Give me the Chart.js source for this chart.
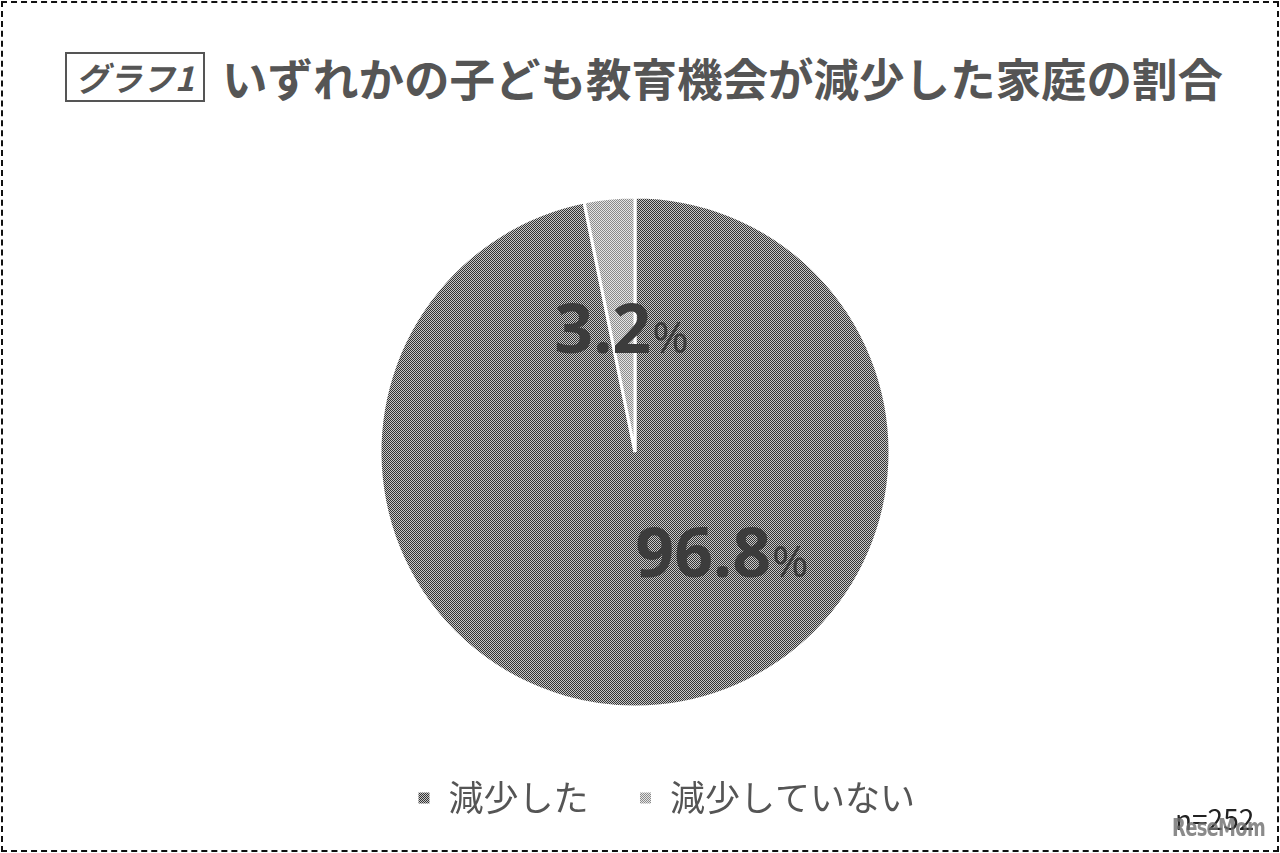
<!DOCTYPE html>
<html lang="ja">
<head>
<meta charset="utf-8">
<script src="https://cdn.jsdelivr.net/npm/chart.js@4/dist/chart.umd.min.js"></script>
<style>
  html, body { margin: 0; padding: 0; background: #fff; }
  body { width: 1280px; height: 853px; position: relative; overflow: hidden;
         font-family: "Noto Sans CJK JP", "Noto Sans", sans-serif; }
  .frame { position: absolute; left: 1px; top: 1px; right: 1px; bottom: 1px;
           border: 2px dashed #111; }
  .title { position: absolute; left: 65px; top: 52px; display: flex; align-items: center;
           color: #555; height: 50px; }
  .title .tag { box-sizing: border-box; border: 2px solid #555; font-size: 33px; font-weight: 700;
                font-style: italic; width: 140px; text-align: center; height: 50px; line-height: 46px;
                margin-right: 17px; }
  .title .main { font-size: 45.5px; font-weight: 700; line-height: 50px; }
  .note { position: absolute; left: 1175px; top: 802px; font-size: 28px; color: #222; line-height: 32px; }
  .wm { position: absolute; left: 1172px; top: 812px; font-size: 25px; font-weight: 900;
        color: rgba(110,110,110,0.8); font-family: "DejaVu Sans", sans-serif; letter-spacing: -1px;
        line-height: 32px; transform: scaleX(0.72); transform-origin: left center; }
  #wrap { position: absolute; left: 0; top: 0; width: 1270px; height: 853px; }
</style>
</head>
<body>
<div class="frame"></div>
<div class="title"><span class="tag">グラフ1</span><span class="main">いずれかの子ども教育機会が減少した家庭の割合</span></div>
<div id="wrap"><canvas id="pie"></canvas></div>
<div class="note">n=252</div>
<div class="wm">ReseMom</div>
<script>
// data
const labels = ["減少した", "減少していない"];
const values = [96.8, 3.2];

// label baseline placement relative to pie centre, as fraction of radius
const labelOffsets = [[0.339, 0.49], [-0.055, -0.39]];
const legendShift = 31;

function makePattern(dark, light) {
  const c = document.createElement("canvas");
  c.width = 2; c.height = 2;
  const g = c.getContext("2d");
  g.fillStyle = light; g.fillRect(0, 0, 2, 2);
  g.fillStyle = dark; g.fillRect(0, 0, 1, 1); g.fillRect(1, 1, 1, 1);
  return g.createPattern(c, "repeat");
}

const fills = [makePattern("#333333", "#c8c8c8"), makePattern("#8a8a8a", "#e6e6e6")];

const pctLabels = {
  id: "pctLabels",
  beforeDraw(chart) {
    // nudge the legend right, as in the original layout
    const lg = chart.legend;
    if (lg && !lg._shifted) {
      lg.left += legendShift;
      lg.right += legendShift;
      lg._shifted = true;
    }
  },
  afterLayout(chart) {
    if (chart.legend) chart.legend._shifted = false;
  },
  afterDatasetsDraw(chart) {
    const ctx = chart.ctx;
    const meta = chart.getDatasetMeta(0);
    const big = "bold 68px 'Noto Sans', 'Open Sans', sans-serif";
    const small = "44px 'Noto Sans', 'Open Sans', sans-serif";
    meta.data.forEach((arc, i) => {
      const r = arc.outerRadius;
      const x = arc.x + labelOffsets[i][0] * r;
      const y = arc.y + labelOffsets[i][1] * r;
      const num = values[i].toFixed(1);
      ctx.save();
      ctx.fillStyle = "#3c3c3c";
      ctx.textBaseline = "alphabetic";
      ctx.textAlign = "left";
      ctx.font = big;
      const w1 = ctx.measureText(num).width;
      ctx.font = small;
      const w2 = ctx.measureText("%").width;
      const x0 = x - (w1 + w2) / 2;
      ctx.font = big;
      ctx.fillText(num, x0, y);
      ctx.font = small;
      ctx.fillText("%", x0 + w1 + 1, y);
      ctx.restore();
    });
  }
};

new Chart(document.getElementById("pie"), {
  type: "pie",
  data: {
    labels: labels,
    datasets: [{
      data: values,
      backgroundColor: fills,
      borderColor: "#ffffff",
      borderWidth: 3,
      radius: 255
    }]
  },
  options: {
    responsive: true,
    maintainAspectRatio: false,
    animation: false,
    layout: { padding: { top: 173.5, bottom: 27.5 } },
    plugins: {
      tooltip: { enabled: false },
      legend: {
        position: "bottom",
        labels: {
          color: "#555",
          font: { size: 35, family: "'Noto Sans CJK JP', sans-serif" },
          boxWidth: 14,
          boxHeight: 14,
          padding: 50
        }
      }
    }
  },
  plugins: [pctLabels]
});
</script>
</body>
</html>
